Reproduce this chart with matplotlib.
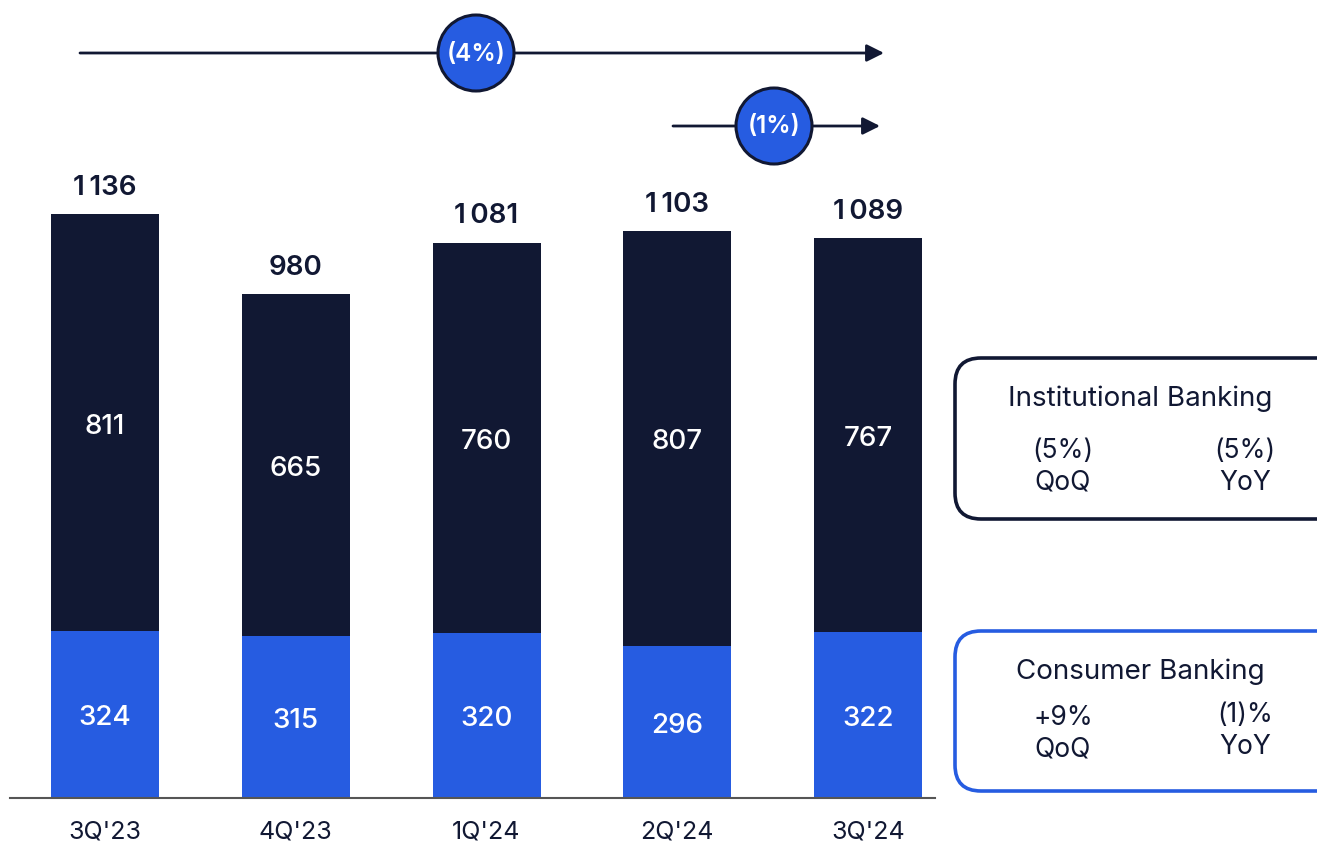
import matplotlib.pyplot as plt
from matplotlib.patches import Circle, FancyBboxPatch

plt.rcParams['font.family'] = ['Inter', 'DejaVu Sans']

quarters = ["3Q'23", "4Q'23", "1Q'24", "2Q'24", "3Q'24"]
consumer = [324, 315, 320, 296, 322]
institutional = [811, 665, 760, 807, 767]
totals = [1136, 980, 1081, 1103, 1089]

NAVY = '#111833'
BLUE = '#265CE1'

W, H = 1317, 847
fig = plt.figure(figsize=(W / 100, H / 100), dpi=100)

# main bar axes: baseline at y=798px, bars centred at 105..868px
ax = fig.add_axes([10 / W, 1 - 798 / H, 925 / W, 798 / H])
x = range(len(quarters))
ax.bar(x, consumer, width=0.566, color=BLUE)
ax.bar(x, institutional, width=0.566, bottom=consumer, color=NAVY)
ax.set_xlim(-0.498, 4.351)
ax.set_ylim(0, 1552)

for i in x:
    ax.text(i, consumer[i] / 2 - 7, str(consumer[i]), ha='center', va='center',
            color='white', fontsize=20, fontweight='medium')
    ax.text(i, consumer[i] + institutional[i] / 2 - 7, str(institutional[i]),
            ha='center', va='center', color='white', fontsize=20, fontweight='medium')
    ax.text(i, totals[i] + 50, f'{totals[i]:,}'.replace(',', '\u2009'),
            ha='center', va='center', color=NAVY, fontsize=20, fontweight='semibold')

ax.set_xticks(list(x))
ax.set_xticklabels(quarters, fontsize=18, color=NAVY)
ax.tick_params(axis='x', length=0, pad=16)
ax.set_yticks([])
for s in ['top', 'left', 'right']:
    ax.spines[s].set_visible(False)
ax.spines['bottom'].set_color('#555555')
ax.spines['bottom'].set_linewidth(1.5)

# overlay in pixel coordinates for arrows and boxes
ov = fig.add_axes([0, 0, 1, 1])
ov.set_xlim(0, W)
ov.set_ylim(H, 0)
ov.axis('off')

def growth_arrow(x0, x1, y, cx, label):
    ov.annotate('', xy=(x1, y), xytext=(x0, y),
                arrowprops=dict(arrowstyle='-|>', color=NAVY, lw=2, mutation_scale=26,
                                shrinkA=0, shrinkB=0))
    ov.add_patch(Circle((cx, y), 38, facecolor=BLUE, edgecolor=NAVY, lw=2.2, zorder=3))
    ov.text(cx, y + 1, label, ha='center', va='center', color='white', fontsize=17.5,
            fontweight='semibold', zorder=4)

growth_arrow(80, 884, 53, 476, '(4%)')
growth_arrow(673, 880, 126, 774, '(1%)')

def seg_box(top, bottom, edge, title, left_val, right_val, ly, ry):
    ov.add_patch(FancyBboxPatch((955, top), 420, bottom - top,
                                boxstyle='round,pad=0,rounding_size=26',
                                facecolor='white', edgecolor=edge, lw=2.6))
    ov.text(1140, top + 41, title, ha='center', va='center', color=NAVY, fontsize=20)
    ov.text(1063, ly, left_val + '\nQoQ', ha='center', va='center', color=NAVY,
            fontsize=19, linespacing=1.27)
    ov.text(1245, ry, right_val + '\nYoY', ha='center', va='center', color=NAVY,
            fontsize=19, linespacing=1.27)

seg_box(358, 519, NAVY, 'Institutional Banking', '(5%)', '(5%)', 467, 467)
seg_box(631, 791, BLUE, 'Consumer Banking', '+9%', '(1)%', 734, 731)

fig.savefig('out.png', dpi=100)
